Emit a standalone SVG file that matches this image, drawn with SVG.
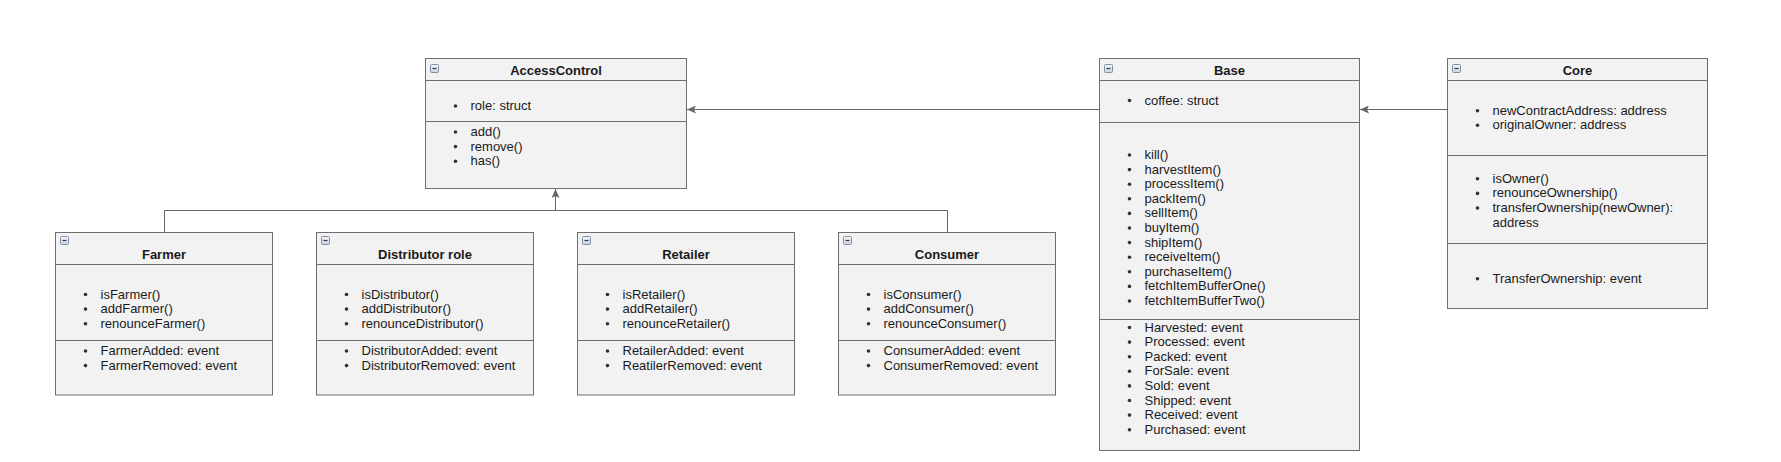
<svg xmlns="http://www.w3.org/2000/svg" xmlns:xlink="http://www.w3.org/1999/xlink" width="1781" height="462" viewBox="0 0 1781 462">
<style>
.box{fill:#f2f2f2;stroke:#6e6e6e;stroke-width:1}
.div{stroke:#6e6e6e;stroke-width:1;fill:none}
.t{font-family:"Liberation Sans",Arial,Helvetica,sans-serif;font-size:13px;fill:#1a1a1a}
.h{font-family:"Liberation Sans",Arial,Helvetica,sans-serif;font-size:13px;font-weight:bold;fill:#1a1a1a;text-anchor:middle}
.b{fill:#333}
.conn{fill:none;stroke:#666;stroke-width:1}
</style>
<defs>
<linearGradient id="ig" x1="0" y1="0" x2="0" y2="1"><stop offset="0" stop-color="#f4f7fb"/><stop offset="1" stop-color="#c9d3df"/></linearGradient>
<g id="icon"><rect x="0.5" y="0.5" width="8" height="8" rx="1" fill="url(#ig)" stroke="#7f90a6"/><line x1="2.5" y1="4.5" x2="6.5" y2="4.5" stroke="#2f3b4a" stroke-width="1.2"/></g>
<marker id="arr" viewBox="0 0 9 8" refX="9" refY="4" markerWidth="9" markerHeight="8" markerUnits="userSpaceOnUse" orient="auto"><path d="M0,0 L9,4 L0,8 L2,4 Z" fill="#666"/></marker>
</defs>

<g id="connectors">
<path class="conn" d="M1099.5,109.5 H687" marker-end="url(#arr)"/>
<path class="conn" d="M1447.5,109.5 H1360" marker-end="url(#arr)"/>
<path class="conn" d="M164.5,232.5 V210.5 H947.5 V232.5"/>
<path class="conn" d="M555.5,210.5 V189" marker-end="url(#arr)"/>
</g>

<g id="AccessControl" transform="translate(425.5,58.5)">
<rect class="box" x="0" y="0" width="261" height="130"/>
<path class="div" d="M0,22 H261 M0,63 H261"/>
<use xlink:href="#icon" x="4.5" y="5.5"/>
<text class="h" x="130.5" y="16.5">AccessControl</text>
<circle class="b" cx="30" cy="47.5" r="1.8"/><text class="t" x="45" y="51.5">role: struct</text>
<circle class="b" cx="30" cy="73.5" r="1.8"/><text class="t" x="45" y="77.5">add()</text>
<circle class="b" cx="30" cy="88.1" r="1.8"/><text class="t" x="45" y="92.1">remove()</text>
<circle class="b" cx="30" cy="102.7" r="1.8"/><text class="t" x="45" y="106.7">has()</text>
</g>

<g id="Base" transform="translate(1099.5,58.5)">
<rect class="box" x="0" y="0" width="260" height="392"/>
<path class="div" d="M0,22 H260 M0,64 H260 M0,261 H260"/>
<use xlink:href="#icon" x="4.5" y="5.5"/>
<text class="h" x="130" y="16.5">Base</text>
<circle class="b" cx="30" cy="42" r="1.8"/><text class="t" x="45" y="46">coffee: struct</text>
<circle class="b" cx="30" cy="96.5" r="1.8"/><text class="t" x="45" y="100.5">kill()</text>
<circle class="b" cx="30" cy="111.1" r="1.8"/><text class="t" x="45" y="115.1">harvestItem()</text>
<circle class="b" cx="30" cy="125.7" r="1.8"/><text class="t" x="45" y="129.7">processItem()</text>
<circle class="b" cx="30" cy="140.3" r="1.8"/><text class="t" x="45" y="144.3">packItem()</text>
<circle class="b" cx="30" cy="154.9" r="1.8"/><text class="t" x="45" y="158.9">sellItem()</text>
<circle class="b" cx="30" cy="169.5" r="1.8"/><text class="t" x="45" y="173.5">buyItem()</text>
<circle class="b" cx="30" cy="184.1" r="1.8"/><text class="t" x="45" y="188.1">shipItem()</text>
<circle class="b" cx="30" cy="198.7" r="1.8"/><text class="t" x="45" y="202.7">receiveItem()</text>
<circle class="b" cx="30" cy="213.3" r="1.8"/><text class="t" x="45" y="217.3">purchaseItem()</text>
<circle class="b" cx="30" cy="227.9" r="1.8"/><text class="t" x="45" y="231.9">fetchItemBufferOne()</text>
<circle class="b" cx="30" cy="242.5" r="1.8"/><text class="t" x="45" y="246.5">fetchItemBufferTwo()</text>
<circle class="b" cx="30" cy="269" r="1.8"/><text class="t" x="45" y="273">Harvested: event</text>
<circle class="b" cx="30" cy="283.6" r="1.8"/><text class="t" x="45" y="287.6">Processed: event</text>
<circle class="b" cx="30" cy="298.2" r="1.8"/><text class="t" x="45" y="302.2">Packed: event</text>
<circle class="b" cx="30" cy="312.8" r="1.8"/><text class="t" x="45" y="316.8">ForSale: event</text>
<circle class="b" cx="30" cy="327.4" r="1.8"/><text class="t" x="45" y="331.4">Sold: event</text>
<circle class="b" cx="30" cy="342" r="1.8"/><text class="t" x="45" y="346">Shipped: event</text>
<circle class="b" cx="30" cy="356.6" r="1.8"/><text class="t" x="45" y="360.6">Received: event</text>
<circle class="b" cx="30" cy="371.2" r="1.8"/><text class="t" x="45" y="375.2">Purchased: event</text>
</g>

<g id="Core" transform="translate(1447.5,58.5)">
<rect class="box" x="0" y="0" width="260" height="250"/>
<path class="div" d="M0,22 H260 M0,97 H260 M0,185 H260"/>
<use xlink:href="#icon" x="4.5" y="5.5"/>
<text class="h" x="130" y="16.5">Core</text>
<circle class="b" cx="30" cy="52.2" r="1.8"/><text class="t" x="45" y="56.2">newContractAddress: address</text>
<circle class="b" cx="30" cy="66.8" r="1.8"/><text class="t" x="45" y="70.8">originalOwner: address</text>
<circle class="b" cx="30" cy="120.3" r="1.8"/><text class="t" x="45" y="124.3">isOwner()</text>
<circle class="b" cx="30" cy="134.9" r="1.8"/><text class="t" x="45" y="138.9">renounceOwnership()</text>
<circle class="b" cx="30" cy="149.5" r="1.8"/><text class="t" x="45" y="153.5">transferOwnership(newOwner):</text>
<text class="t" x="45" y="168.1">address</text>
<circle class="b" cx="30" cy="220.3" r="1.8"/><text class="t" x="45" y="224.3">TransferOwnership: event</text>
</g>

<g id="Farmer" transform="translate(55.5,232.5)">
<rect class="box" x="0" y="0" width="217" height="162.5"/>
<path class="div" d="M0,32 H217 M0,108 H217"/>
<use xlink:href="#icon" x="4.5" y="3.5"/>
<text class="h" x="108.5" y="26.5">Farmer</text>
<circle class="b" cx="30" cy="62" r="1.8"/><text class="t" x="45" y="66">isFarmer()</text>
<circle class="b" cx="30" cy="76.6" r="1.8"/><text class="t" x="45" y="80.6">addFarmer()</text>
<circle class="b" cx="30" cy="91.2" r="1.8"/><text class="t" x="45" y="95.2">renounceFarmer()</text>
<circle class="b" cx="30" cy="118.5" r="1.8"/><text class="t" x="45" y="122.5">FarmerAdded: event</text>
<circle class="b" cx="30" cy="133.1" r="1.8"/><text class="t" x="45" y="137.1">FarmerRemoved: event</text>
</g>

<g id="Distributor" transform="translate(316.5,232.5)">
<rect class="box" x="0" y="0" width="217" height="162.5"/>
<path class="div" d="M0,32 H217 M0,108 H217"/>
<use xlink:href="#icon" x="4.5" y="3.5"/>
<text class="h" x="108.5" y="26.5">Distributor role</text>
<circle class="b" cx="30" cy="62" r="1.8"/><text class="t" x="45" y="66">isDistributor()</text>
<circle class="b" cx="30" cy="76.6" r="1.8"/><text class="t" x="45" y="80.6">addDistributor()</text>
<circle class="b" cx="30" cy="91.2" r="1.8"/><text class="t" x="45" y="95.2">renounceDistributor()</text>
<circle class="b" cx="30" cy="118.5" r="1.8"/><text class="t" x="45" y="122.5">DistributorAdded: event</text>
<circle class="b" cx="30" cy="133.1" r="1.8"/><text class="t" x="45" y="137.1">DistributorRemoved: event</text>
</g>

<g id="Retailer" transform="translate(577.5,232.5)">
<rect class="box" x="0" y="0" width="217" height="162.5"/>
<path class="div" d="M0,32 H217 M0,108 H217"/>
<use xlink:href="#icon" x="4.5" y="3.5"/>
<text class="h" x="108.5" y="26.5">Retailer</text>
<circle class="b" cx="30" cy="62" r="1.8"/><text class="t" x="45" y="66">isRetailer()</text>
<circle class="b" cx="30" cy="76.6" r="1.8"/><text class="t" x="45" y="80.6">addRetailer()</text>
<circle class="b" cx="30" cy="91.2" r="1.8"/><text class="t" x="45" y="95.2">renounceRetailer()</text>
<circle class="b" cx="30" cy="118.5" r="1.8"/><text class="t" x="45" y="122.5">RetailerAdded: event</text>
<circle class="b" cx="30" cy="133.1" r="1.8"/><text class="t" x="45" y="137.1">ReatilerRemoved: event</text>
</g>

<g id="Consumer" transform="translate(838.5,232.5)">
<rect class="box" x="0" y="0" width="217" height="162.5"/>
<path class="div" d="M0,32 H217 M0,108 H217"/>
<use xlink:href="#icon" x="4.5" y="3.5"/>
<text class="h" x="108.5" y="26.5">Consumer</text>
<circle class="b" cx="30" cy="62" r="1.8"/><text class="t" x="45" y="66">isConsumer()</text>
<circle class="b" cx="30" cy="76.6" r="1.8"/><text class="t" x="45" y="80.6">addConsumer()</text>
<circle class="b" cx="30" cy="91.2" r="1.8"/><text class="t" x="45" y="95.2">renounceConsumer()</text>
<circle class="b" cx="30" cy="118.5" r="1.8"/><text class="t" x="45" y="122.5">ConsumerAdded: event</text>
<circle class="b" cx="30" cy="133.1" r="1.8"/><text class="t" x="45" y="137.1">ConsumerRemoved: event</text>
</g>
</svg>
